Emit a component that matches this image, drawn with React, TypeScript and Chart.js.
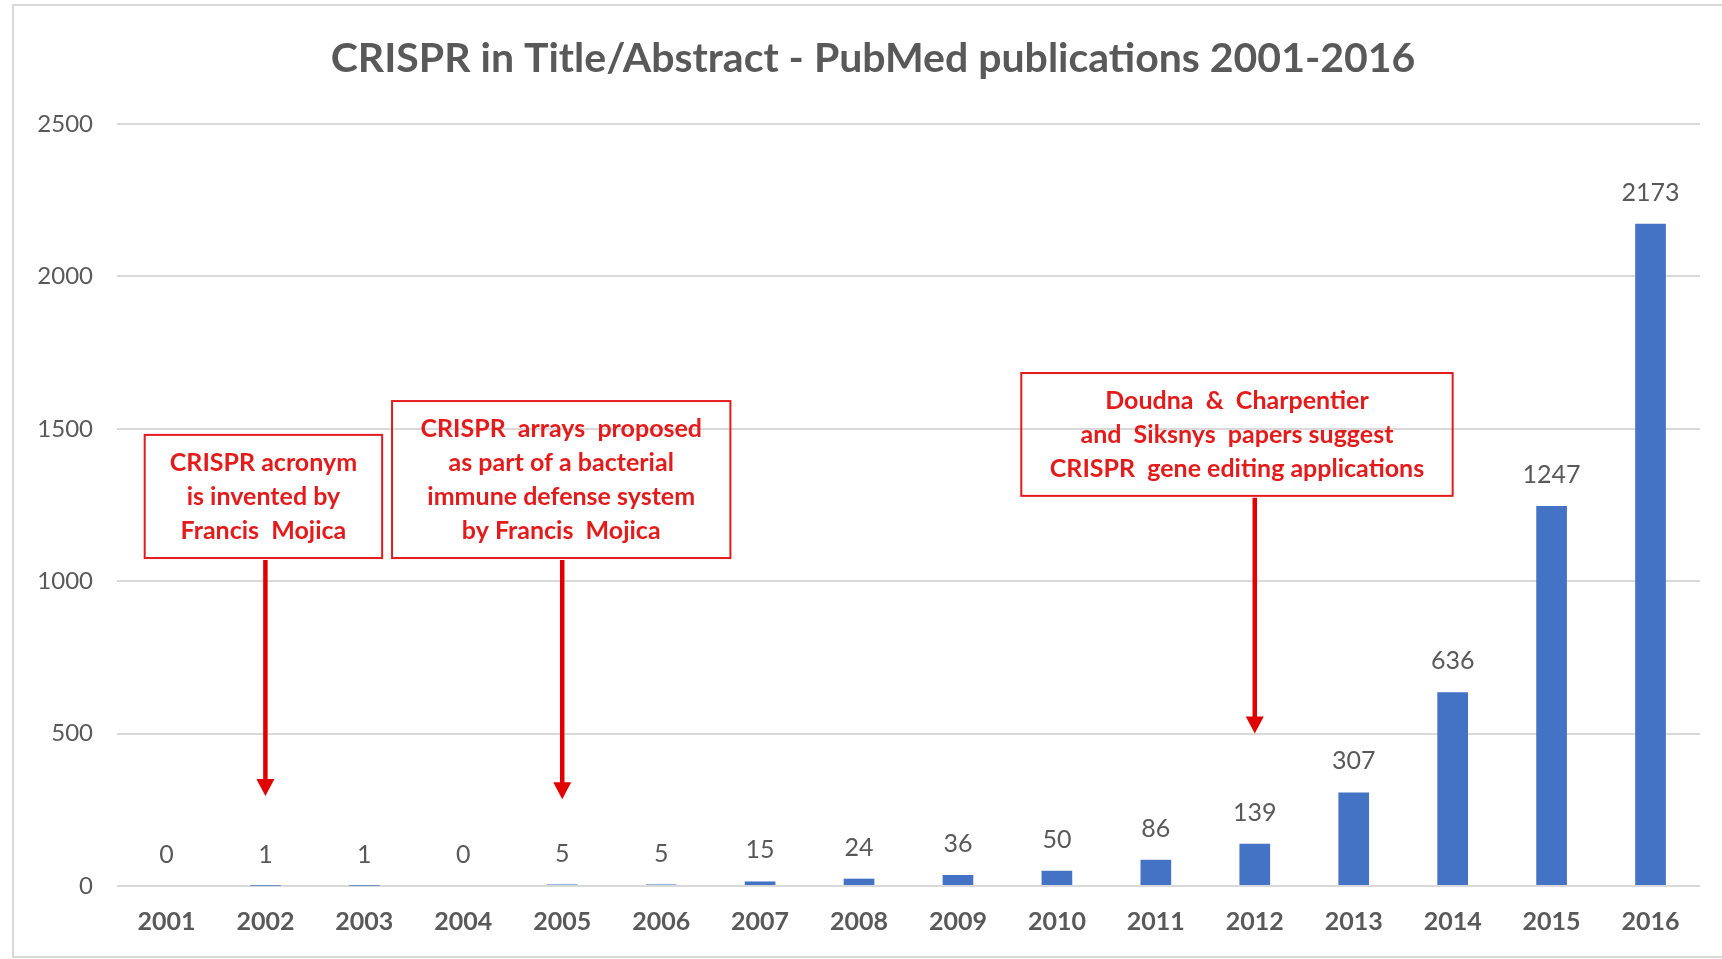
import React, { useEffect, useRef } from "react";
import { Chart, registerables } from "chart.js";

Chart.register(...registerables);

const years = ["2001","2002","2003","2004","2005","2006","2007","2008","2009","2010","2011","2012","2013","2014","2015","2016"];
const publications = [0, 1, 1, 0, 5, 5, 15, 24, 36, 50, 86, 139, 307, 636, 1247, 2173];
const yTicks = [0, 500, 1000, 1500, 2000, 2500];
const titleText = "CRISPR in Title/Abstract - PubMed publications 2001-2016";

const note1Lines = ["CRISPR acronym", "is invented by", "Francis  Mojica"];
const note2Lines = ["CRISPR  arrays  proposed", "as part of a bacterial", "immune defense system", "by Francis  Mojica"];
const note3Lines = ["Doudna  &  Charpentier", "and  Siksnys  papers suggest", "CRISPR  gene editing applications"];

const notes = [
  { lines: note1Lines, x0: -0.22, x1: 2.18, yTop: 1480, yBottom: 1076, arrowIndex: 1, arrowTip: 295 },
  { lines: note2Lines, x0: 2.28, x1: 5.7, yTop: 1591, yBottom: 1076, arrowIndex: 4, arrowTip: 285 },
  { lines: note3Lines, x0: 8.64, x1: 13.0, yTop: 1683, yBottom: 1280, arrowIndex: 11, arrowTip: 500 },
];

const FONT = "Lato, 'Noto Sans', sans-serif";
const GRAY = "#595959";
const RED = "#e31b1b";

export default function App() {
  const ref = useRef<HTMLCanvasElement | null>(null);
  useEffect(() => {
    const canvas = ref.current!;
    const frame = {
      id: "frame",
      beforeDraw(chart: any) {
        const ctx = chart.ctx;
        ctx.save();
        ctx.fillStyle = "#ffffff";
        ctx.fillRect(0, 0, chart.width, chart.height);
        ctx.strokeStyle = "#d9d9d9";
        ctx.lineWidth = 2;
        ctx.strokeRect(13, 5, chart.width, chart.height - 7);
        ctx.restore();
      },
      afterDraw(chart: any) {
        const ctx = chart.ctx;
        const ca = chart.chartArea;
        ctx.save();
        ctx.fillStyle = GRAY;
        ctx.font = `bold 41px ${FONT}`;
        ctx.textAlign = "center";
        ctx.textBaseline = "middle";
        ctx.fillText(titleText, chart.width / 2 + 12, ca.top - 65);
        ctx.restore();
      },
    };
    const labels = {
      id: "valueLabels",
      afterDatasetsDraw(chart: any) {
        const ctx = chart.ctx;
        const meta = chart.getDatasetMeta(0);
        ctx.save();
        ctx.fillStyle = GRAY;
        ctx.font = `25px ${FONT}`;
        ctx.textAlign = "center";
        ctx.textBaseline = "middle";
        meta.data.forEach((bar: any, i: number) => {
          ctx.fillText(String(publications[i]), bar.x, bar.y - 31);
        });
        ctx.restore();
      },
    };
    const annot = {
      id: "annot",
      afterDraw(chart: any) {
        const ctx = chart.ctx;
        const xs = chart.scales.x;
        const ys = chart.scales.y;
        const step = xs.getPixelForValue(1) - xs.getPixelForValue(0);
        const px = (v: number) => xs.getPixelForValue(0) + step * v;
        ctx.save();
        notes.forEach((n) => {
          const l = px(n.x0), r = px(n.x1);
          const t = ys.getPixelForValue(n.yTop), b = ys.getPixelForValue(n.yBottom);
          ctx.strokeStyle = RED;
          ctx.lineWidth = 2;
          ctx.strokeRect(l, t, r - l, b - t);
          ctx.fillStyle = RED;
          ctx.font = `bold 25px ${FONT}`;
          ctx.textAlign = "center";
          ctx.textBaseline = "middle";
          const lh = 34;
          const cy = (t + b) / 2;
          const cx = (l + r) / 2;
          n.lines.forEach((s, i) => {
            ctx.fillText(s, cx, cy + (i - (n.lines.length - 1) / 2) * lh);
          });
          const ax = xs.getPixelForValue(n.arrowIndex);
          const tip = ys.getPixelForValue(n.arrowTip);
          ctx.strokeStyle = "#e00000";
          ctx.lineWidth = 4.5;
          ctx.beginPath();
          ctx.moveTo(ax, b + 2);
          ctx.lineTo(ax, tip - 14);
          ctx.stroke();
          ctx.fillStyle = "#e00000";
          ctx.beginPath();
          ctx.moveTo(ax - 9, tip - 17);
          ctx.lineTo(ax + 9, tip - 17);
          ctx.lineTo(ax, tip);
          ctx.closePath();
          ctx.fill();
        });
        ctx.restore();
      },
    };
    const chart = new Chart(canvas, {
      type: "bar",
      data: {
        labels: years,
        datasets: [
          {
            data: publications,
            backgroundColor: "#4472C4",
            barPercentage: 0.31,
            categoryPercentage: 1,
          },
        ],
      },
      options: {
        animation: false,
        responsive: false,
        maintainAspectRatio: false,
        layout: { padding: { left: 0, right: 22, top: 124, bottom: 0 } },
        plugins: {
          legend: { display: false },
          tooltip: { enabled: false },
          title: { display: false },
        },
        scales: {
          x: {
            grid: { display: false, drawTicks: false },
            border: { display: false },
            afterFit: (s: any) => {
              s.height = 73;
            },
            ticks: {
              color: GRAY,
              font: { family: FONT, size: 25, weight: "bold" },
              padding: 21,
              maxRotation: 0,
            },
          },
          y: {
            min: 0,
            max: 2500,
            afterBuildTicks: (s: any) => {
              s.ticks = yTicks.map((v) => ({ value: v }));
            },
            afterFit: (s: any) => {
              s.width = 117;
            },
            grid: { color: "#d9d9d9", lineWidth: 2, drawTicks: false },
            border: { display: false },
            ticks: {
              color: GRAY,
              font: { family: FONT, size: 24 },
              padding: 24,
              callback: (v: any) => String(v),
            },
          },
        },
      },
      plugins: [frame, labels, annot],
    });
    return () => chart.destroy();
  }, []);
  return (
    <div style={{ position: "fixed", left: 0, top: 0, width: 1722, height: 959 }}>
      <canvas ref={ref} width={1722} height={959} style={{ width: 1722, height: 959, display: "block" }} />
    </div>
  );
}
